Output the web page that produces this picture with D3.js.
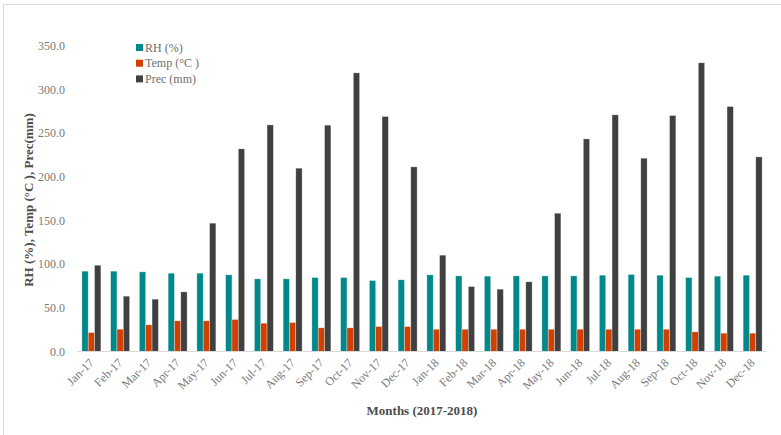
<!DOCTYPE html>
<html>
<head>
<meta charset="utf-8">
<script src="https://cdn.jsdelivr.net/npm/d3@7"></script>
<style>
  html, body { margin: 0; padding: 0; background: #fff; }
  svg { display: block; font-family: "Liberation Serif", "DejaVu Serif", serif; }
</style>
</head>
<body>
<svg id="chart" width="781" height="435"></svg>
<script>
// Monthly climate data, 2017-2018
const months = ["Jan-17","Feb-17","Mar-17","Apr-17","May-17","Jun-17","Jul-17","Aug-17","Sep-17","Oct-17","Nov-17","Dec-17",
                "Jan-18","Feb-18","Mar-18","Apr-18","May-18","Jun-18","Jul-18","Aug-18","Sep-18","Oct-18","Nov-18","Dec-18"];
const rh   = [91.9, 91.9, 91.1, 89.6, 89.6, 87.7, 83.1, 83.1, 84.6, 84.6, 81.2, 82.0,
              87.7, 86.5, 86.2, 86.5, 86.5, 86.5, 87.3, 88.1, 87.3, 84.6, 86.2, 87.3];
const temp = [21.7, 25.5, 30.5, 35.1, 35.1, 36.6, 32.4, 33.2, 27.1, 27.1, 28.6, 28.6,
              25.5, 25.5, 25.5, 25.5, 25.5, 25.5, 25.5, 25.5, 25.5, 22.5, 21.0, 21.0];
const prec = [98.7, 63.3, 59.9, 68.2, 146.8, 231.8, 259.2, 209.7, 258.9, 318.7, 268.8, 211.2,
              110.2, 74.3, 71.3, 79.7, 158.2, 243.2, 270.7, 221.1, 269.9, 330.2, 280.2, 222.6];
const seriesNames = ["RH (%)", "Temp (°C )", "Prec (mm)"];
const yTicks = [0, 50, 100, 150, 200, 250, 300, 350];

const colors = ["#00888a", "#d24000", "#404040"];
const seriesValues = [rh, temp, prec];

const svg = d3.select("#chart");

// outer chart frame
svg.append("rect")
  .attr("x", 3.5).attr("y", 4.5)
  .attr("width", 800).attr("height", 460)
  .attr("fill", "none").attr("stroke", "#d9d9d9").attr("stroke-width", 1);

const plot = { left: 77, right: 767, top: 45.5, bottom: 351.5 };

const x0 = d3.scaleBand().domain(months).range([plot.left, plot.right]).padding(0);
const groupW = 19;
const x1 = d3.scaleBand().domain(d3.range(3))
  .range([(x0.bandwidth() - groupW) / 2, (x0.bandwidth() + groupW) / 2]);
const y = d3.scaleLinear().domain([0, 350]).range([plot.bottom, plot.top]);

// bars
const groups = svg.append("g").selectAll("g")
  .data(months)
  .join("g")
  .attr("transform", d => `translate(${x0(d)},0)`);

groups.selectAll("rect")
  .data((d, i) => seriesValues.map((vals, s) => ({ s, v: vals[i] })))
  .join("rect")
  .attr("x", d => x1(d.s))
  .attr("width", x1.bandwidth())
  .attr("y", d => y(d.v))
  .attr("height", d => y(0) - y(d.v))
  .attr("fill", d => colors[d.s])
  .attr("stroke", "rgba(255,255,255,0.55)")
  .attr("stroke-width", 0.6);

// baseline
svg.append("line")
  .attr("x1", plot.left).attr("x2", plot.right)
  .attr("y1", y(0)).attr("y2", y(0))
  .attr("stroke", "#d9d9d9").attr("stroke-width", 1);

// y axis
const yAxis = d3.axisLeft(y).tickValues(yTicks).tickFormat(d3.format(".1f")).tickSize(0).tickPadding(0);
const gy = svg.append("g").attr("transform", `translate(65,0)`).call(yAxis);
gy.select(".domain").remove();
gy.selectAll("text")
  .attr("fill", "#7a7a7a").attr("font-size", 12)
  .attr("font-family", "Liberation Serif, serif");

// x axis labels, rotated
const xAxis = d3.axisBottom(x0).tickSize(0).tickPadding(0);
const gx = svg.append("g").attr("transform", `translate(0,${y(0)})`).call(xAxis);
gx.select(".domain").remove();
gx.selectAll("text")
  .attr("fill", "#7a7a7a").attr("font-size", 12)
  .attr("font-family", "Liberation Serif, serif")
  .attr("text-anchor", "end")
  .attr("dy", "0")
  .attr("transform", "translate(3,12) rotate(-45)");

// axis titles
svg.append("text")
  .attr("x", 422).attr("y", 415)
  .attr("text-anchor", "middle")
  .attr("font-size", 13).attr("font-weight", "bold")
  .attr("fill", "#4d4d4d")
  .text("Months (2017-2018)");

svg.append("text")
  .attr("transform", "translate(33,200) rotate(-90)")
  .attr("text-anchor", "middle")
  .attr("font-size", 13).attr("font-weight", "bold")
  .attr("fill", "#4d4d4d")
  .text("RH (%), Temp (°C ), Prec(mm)");

// legend
const legend = svg.append("g").attr("transform", "translate(136,47.5)");
const items = legend.selectAll("g").data(seriesNames).join("g")
  .attr("transform", (d, i) => `translate(0,${i * 15.7})`);
items.append("rect")
  .attr("x", 0).attr("y", -3.5).attr("width", 7).attr("height", 7)
  .attr("fill", (d, i) => colors[i]);
items.append("text")
  .attr("x", 9).attr("y", 0).attr("dy", "0.35em")
  .attr("font-size", 12).attr("fill", "#6e6e6e")
  .text(d => d);
</script>
</body>
</html>
